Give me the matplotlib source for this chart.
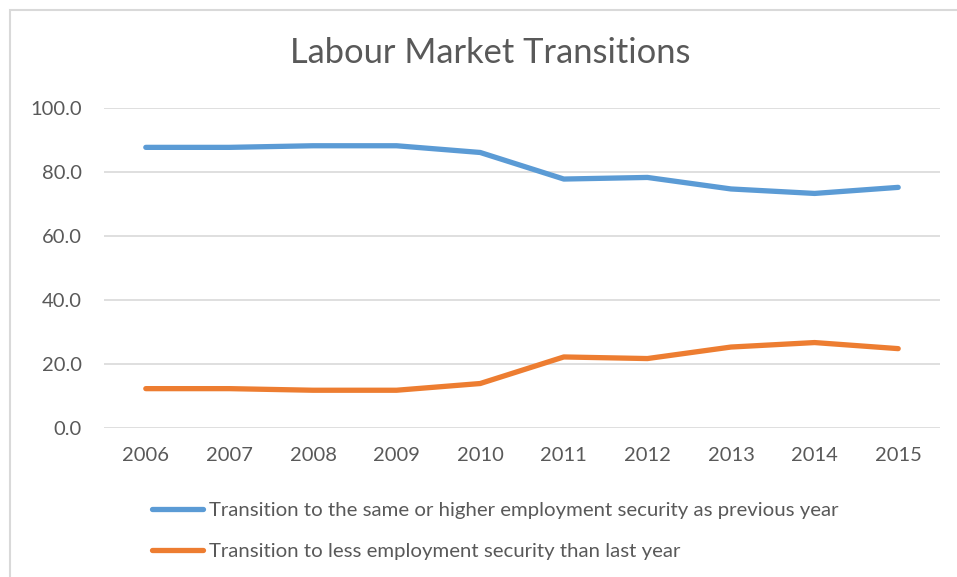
import matplotlib.pyplot as plt
from matplotlib.patches import Rectangle

# Data
years = ['2006', '2007', '2008', '2009', '2010', '2011', '2012', '2013', '2014', '2015']
same_or_higher = [87.7, 87.7, 88.2, 88.2, 86.1, 77.8, 78.3, 74.7, 73.3, 75.2]
less_security = [12.3, 12.3, 11.8, 11.8, 13.9, 22.2, 21.7, 25.3, 26.7, 24.8]
series_labels = ['Transition to the same or higher employment security as previous year',
                 'Transition to less employment security than last year']
yticks = [0, 20, 40, 60, 80, 100]

BLUE = '#5B9BD5'
ORANGE = '#ED7D31'
GREY = '#595959'

plt.rcParams['font.family'] = ['Lato', 'DejaVu Sans']

fig = plt.figure(figsize=(9.57, 5.77), dpi=100)
# light chart border like the Excel chart area
fig.patches.append(Rectangle((10 / 957, -0.1), 1.0, (577 - 9.5) / 577 + 0.1,
                             transform=fig.transFigure, fill=False,
                             edgecolor='#D9D9D9', linewidth=1.5))

ax = fig.add_axes([104 / 957, (577 - 428) / 577, 836 / 957, 320 / 577])
x = range(len(years))
ax.plot(x, same_or_higher, color=BLUE, lw=3.8, solid_capstyle='round', label=series_labels[0])
ax.plot(x, less_security, color=ORANGE, lw=3.8, solid_capstyle='round', label=series_labels[1])

ax.set_xlim(-0.5, len(years) - 0.5)
ax.set_ylim(0, 100)
ax.set_xticks(list(x))
ax.set_xticklabels(years)
ax.set_yticks(yticks)
ax.set_yticklabels([f'{v:.1f}' for v in yticks])
ax.tick_params(length=0, labelsize=14.5, colors=GREY)
ax.tick_params(axis='x', pad=14)
ax.tick_params(axis='y', pad=16)
ax.grid(axis='y', color='#D9D9D9', lw=1.2)
ax.set_axisbelow(True)
for s in ax.spines.values():
    s.set_visible(False)

fig.text(490 / 957, 1 - 53 / 577, 'Labour Market Transitions', ha='center', va='center',
         fontsize=24.8, color=GREY)

fig.legend(loc='upper left', bbox_to_anchor=(144 / 957, 1 - 494 / 577), frameon=False,
           fontsize=14.7, labelcolor=GREY, handlelength=2.5, handletextpad=0.3,
           labelspacing=1.15, borderaxespad=0)

fig.savefig('out.png', dpi=100, facecolor='white')
